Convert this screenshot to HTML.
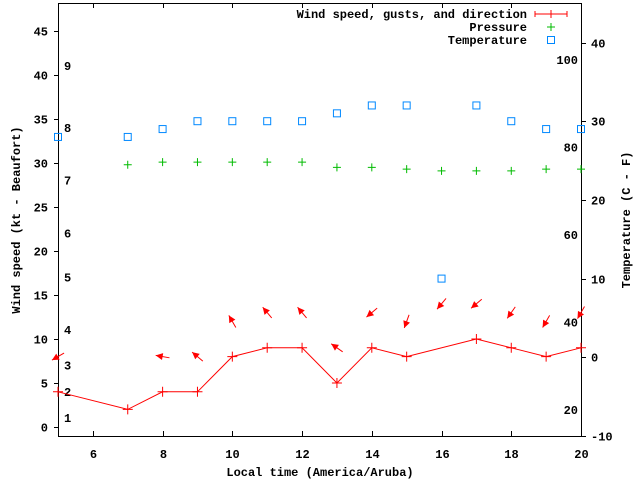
<!DOCTYPE html>
<html><head><meta charset="utf-8"><style>
body{margin:0;background:#fff}
svg text{font-family:"Liberation Mono",monospace;font-weight:bold;font-size:12px;fill:#000}
</style></head><body>
<svg id="chart" width="640" height="480" xmlns="http://www.w3.org/2000/svg">
<g id="axes"></g>
<g id="marks"></g>
<text transform="translate(20,220) rotate(-90)" text-anchor="middle">Wind speed (kt - Beaufort)</text>
<text transform="translate(630,220) rotate(-90)" text-anchor="middle">Temperature (C - F)</text>
<text x="320" y="476" text-anchor="middle">Local time (America/Aruba)</text>
<g>
<text x="527" y="18" text-anchor="end">Wind speed, gusts, and direction</text>
<path d="M535,14H567M535,11V17M567,11V17M551,10V18" stroke="#f00" fill="none"/>
<text x="527" y="31" text-anchor="end">Pressure</text>
<path d="M547,27H555M551,23V31" stroke="#0b0"/>
<text x="527" y="44" text-anchor="end">Temperature</text>
<rect x="547.5" y="36.5" width="7" height="7" fill="none" stroke="#08f"/>
</g>
</svg>
<script>
const hours=[5,7,8,9,10,11,12,13,14,15,16,17,18,19,20];
const wind=[4,2,4,4,8,9,9,5,9,8,null,10,9,8,9];
const gust=[8,null,8,8,12,13,13,9,13,12,14,14,13,12,13];
const dirFrom=[60,null,100,130,150,140,140,125,50,20,40,50,35,30,30];
const pressure=[null,29.8,30.1,30.1,30.1,30.1,30.1,29.5,29.5,29.3,29.1,29.1,29.1,29.3,29.3];
const tempC=[28,28,29,30,30,30,30,31,32,32,10,32,30,29,29];
const xTicks=[6,8,10,12,14,16,18,20];
const yTicks=[0,5,10,15,20,25,30,35,40,45];
const y2Ticks=[-10,0,10,20,30,40];
const fTicks=[20,40,60,80,100];
const beaufort=[1,4,7,11,17,22,28,34,41];

const L=58,R=581,T=3,B=436;
const X=v=>L+(v-5)*(R-L)/15;
const Y=v=>427-v*8.8;
const Y2=c=>357.3-c*7.87;
const NS="http://www.w3.org/2000/svg";
function mk(tag,attrs,parent,txt){const e=document.createElementNS(NS,tag);for(const k in attrs)e.setAttribute(k,attrs[k]);if(txt!=null)e.textContent=txt;parent.appendChild(e);return e;}
const ax=document.getElementById('axes'),mg=document.getElementById('marks');
let f=mk('rect',{x:L+.5,y:T+.5,width:R-L,height:B-T,fill:'none',stroke:'#000'},ax);


xTicks.forEach(v=>{const x=Math.round(X(v))+.5;
 mk('path',{d:`M${x},${B}v-5M${x},${T}v5`,stroke:'#000'},ax);
 const t=mk('text',{x:x,y:B+22,'text-anchor':'middle'},ax,v);
 
 });
yTicks.forEach(v=>{const y=Math.round(Y(v))+.5;
 mk('path',{d:`M${L},${y}h-4`,stroke:'#000'},ax);
 const t=mk('text',{x:L-10,y:y+4,'text-anchor':'end'},ax,v);
 
 });
y2Ticks.forEach(v=>{const y=Math.round(Y2(v))+.5;
 mk('path',{d:`M${R},${y}h5`,stroke:'#000'},ax);
 const t=mk('text',{x:R+10,y:y+4,'text-anchor':'start'},ax,v);
 
 });
fTicks.forEach(v=>{const y=Y2((v-32)*5/9);
 const t=mk('text',{x:578,y:y+4,'text-anchor':'end'},ax,v);
 
 });
beaufort.forEach((v,i)=>{const t=mk('text',{x:64,y:Y(v)+4},ax,i+1);
 
 });
// wind line
let d='';hours.forEach((h,i)=>{if(wind[i]!=null)d+=(d?'L':'M')+X(h)+','+Y(wind[i]);});
let ln=mk('path',{d:d,fill:'none',stroke:'#f00'},mg);


hours.forEach((h,i)=>{
 if(wind[i]!=null){const x=X(h),y=Y(wind[i]);
  const p=mk('path',{d:`M${x-5},${y}h10M${x},${y-5}v10`,stroke:'#f00'},mg);
  
  }
 if(gust[i]!=null){const cx=X(h),cy=Y(gust[i]);const tr=(dirFrom[i]+180)*Math.PI/180;
  const ux=Math.sin(tr),uy=-Math.cos(tr);const hx=cx+ux*7,hy=cy+uy*7,tx=cx-ux*7,ty=cy-uy*7;
  const px=-uy,py=ux;const bx=hx-ux*7,by=hy-uy*7;
  const g=mk('g',{},mg);
  
  
  mk('path',{d:`M${tx},${ty}L${hx},${hy}`,stroke:'#f00'},g);
  mk('path',{d:`M${hx},${hy}L${bx+px*3.5},${by+py*3.5}L${bx-px*3.5},${by-py*3.5}Z`,fill:'#f00'},g);}
 if(pressure[i]!=null){const x=X(h),y=Y(pressure[i]);
  const p=mk('path',{d:`M${x-4},${y}h8M${x},${y-4}v8`,stroke:'#0b0'},mg);
  
  }
 if(tempC[i]!=null){const x=X(h),y=Y2(tempC[i]);
  const r=mk('rect',{x:x-3.5,y:y-3.5,width:7,height:7,fill:'none',stroke:'#08f'},mg);
  
  }
});
</script>
</body></html>
